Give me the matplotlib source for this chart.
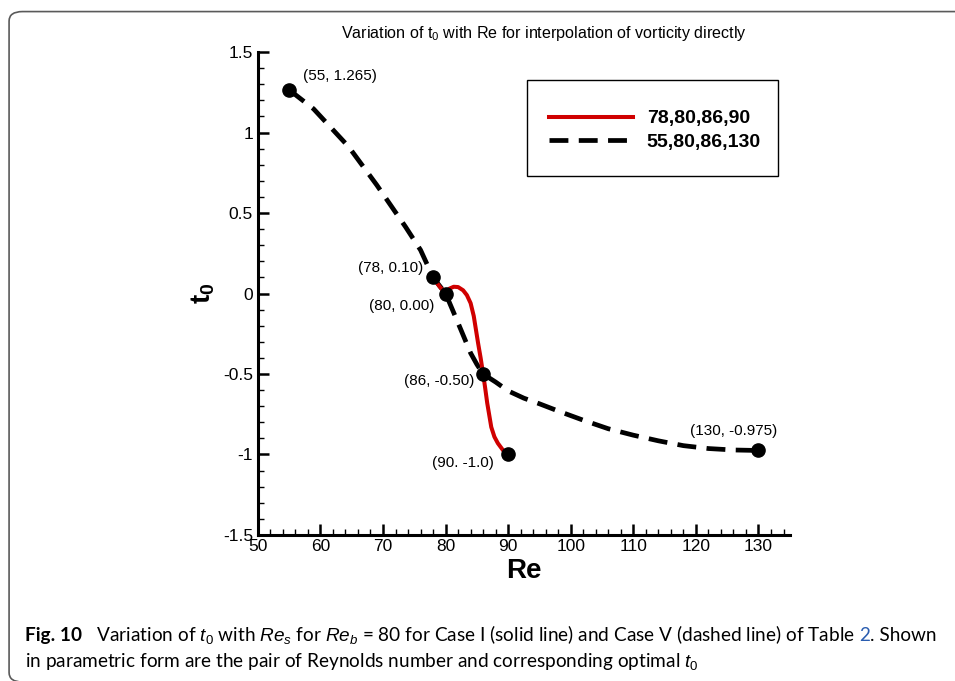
import matplotlib.pyplot as plt
from matplotlib.patches import FancyBboxPatch, Rectangle
from matplotlib.ticker import MultipleLocator

# data
re_solid = [78.0, 79.0, 80.0, 80.6, 81.3, 82.0, 82.8, 83.4, 84.0, 84.5, 85.2, 85.6,
            86.0, 86.3, 86.65, 87.3, 87.8, 88.35, 89.3, 90.0]
t0_solid = [0.10, 0.045, 0.0, 0.03, 0.042, 0.04, 0.02, -0.01, -0.06, -0.14, -0.31, -0.40,
            -0.50, -0.58, -0.68, -0.83, -0.89, -0.93, -0.98, -1.0]

re_dash = [55, 58.9, 64.5, 69.0, 73.6, 76.0, 78.0, 80.0, 81.2, 82.5, 84.0, 85.0, 86.0,
           88.0, 90.0, 92.5, 95.0, 98.0, 102.0, 106.0, 110.0, 114.0, 118.0, 122.0, 126.0, 130.0]
t0_dash = [1.265, 1.147, 0.912, 0.674, 0.414, 0.27, 0.10, 0.0, -0.11, -0.23, -0.37, -0.44, -0.50,
           -0.55, -0.605, -0.65, -0.685, -0.73, -0.787, -0.84, -0.88, -0.915, -0.945, -0.963,
           -0.972, -0.975]

pt_re = [55, 78, 80, 86, 90, 130]
pt_t0 = [1.265, 0.10, 0.00, -0.50, -1.0, -0.975]
pt_labels = ['(55, 1.265)', '(78, 0.10)', '(80, 0.00)', '(86, -0.50)', '(90. -1.0)', '(130, -0.975)']

legend_labels = ['78,80,86,90', '55,80,86,130']
xticks = [50, 60, 70, 80, 90, 100, 110, 120, 130]
yticks = [-1.5, -1, -0.5, 0, 0.5, 1, 1.5]
ytick_labels = ['-1.5', '-1', '-0.5', '0', '0.5', '1', '1.5']

plt.rcParams['font.family'] = ['Liberation Sans', 'DejaVu Sans']
plt.rcParams['mathtext.fontset'] = 'custom'
plt.rcParams['mathtext.rm'] = 'Liberation Sans'
plt.rcParams['mathtext.it'] = 'Liberation Sans:italic'
plt.rcParams['mathtext.bf'] = 'Liberation Sans:bold'

fig = plt.figure(figsize=(9.55, 6.81), dpi=100)

# rounded frame (runs off the right and bottom edges of the page crop)
fig.patches.append(FancyBboxPatch((0.0095, -0.0015), 1.1, 0.9845,
                                  boxstyle='round,pad=0,rounding_size=0.014',
                                  transform=fig.transFigure, fc='none', ec='#5a5a5a', lw=1.2))

ax = fig.add_axes([0.270, 0.2144, 0.557, 0.7092])
ax.plot(re_dash, t0_dash, color='black', lw=3.4, dashes=[4.0, 2.2], label=legend_labels[1], zorder=2)
ax.plot(re_solid, t0_solid, color='#d00000', lw=2.9, label=legend_labels[0], zorder=3)
ax.plot(pt_re, pt_t0, 'o', color='black', ms=9.5, zorder=4)

offsets = [(10, 10), (-7, 7), (-8, -9), (-6, -5), (-10, -6), (-18, 14)]
aligns = ['left', 'right', 'right', 'right', 'right', 'center']
for x, y, s, off, ha in zip(pt_re, pt_t0, pt_labels, offsets, aligns):
    ax.annotate(s, (x, y), xytext=off, textcoords='offset points', ha=ha, va='center', fontsize=11)

ax.set_xlim(50, 135)
ax.set_ylim(-1.5, 1.5)
ax.set_xticks(xticks)
ax.set_yticks(yticks)
ax.set_yticklabels(ytick_labels)
ax.xaxis.set_minor_locator(MultipleLocator(2))
ax.yaxis.set_minor_locator(MultipleLocator(0.1))
ax.tick_params(which='both', direction='in', labelsize=12.5)
ax.tick_params(which='major', length=8, width=1.8)
ax.tick_params(which='minor', length=4.5, width=1)
ax.tick_params(axis='x', pad=3)
for side in ['top', 'right']:
    ax.spines[side].set_visible(False)
for side in ['left', 'bottom']:
    ax.spines[side].set_linewidth(2.2)

ax.set_xlabel('Re', fontsize=20, fontweight='bold', labelpad=3)
ax.set_ylabel(r'$\mathbf{t_0}$', fontsize=20, labelpad=4)

fig.text(0.570, 0.951, r'Variation of t$_0$ with Re for interpolation of vorticity directly',
         ha='center', va='center', fontsize=11.6)

# legend box
ax.add_patch(Rectangle((0.506, 0.743), 0.471, 0.199, transform=ax.transAxes,
                       fc='white', ec='black', lw=1, zorder=5))
h, l = ax.get_legend_handles_labels()
leg = ax.legend([h[1], h[0]], [l[1], l[0]], loc='center left', bbox_to_anchor=(0.530, 0.838),
                frameon=False, borderpad=0, handlelength=4.3, handletextpad=0.7,
                labelspacing=0.3, prop={'weight': 'bold', 'size': 14})
leg.set_zorder(6)

# caption
cap_font = ['Lato', 'DejaVu Sans']
cs = 13.7
t1 = fig.text(0.026, 0.0587, 'Fig. 10', fontsize=cs, fontweight='bold', family=cap_font,
              ha='left', va='baseline')
t2 = fig.text(0.0, 0.0, r'   Variation of $t_0$ with $Re_s$ for $Re_b$ = 80 for Case I (solid line) '
              r'and Case V (dashed line) of Table', fontsize=cs, family=cap_font)
t3 = fig.text(0.0, 0.0, ' 2', fontsize=cs, family=cap_font, color='#2a5db0')
t4 = fig.text(0.0, 0.0, '. Shown', fontsize=cs, family=cap_font)
fig.text(0.026, 0.0206, r'in parametric form are the pair of Reynolds number and corresponding optimal $t_0$',
         fontsize=cs, family=cap_font, ha='left', va='baseline')

fig.canvas.draw()
r = fig.canvas.get_renderer()
prev = t1
for t in [t2, t3, t4]:
    bb = prev.get_window_extent(r)
    x = fig.transFigure.inverted().transform((bb.x1, 0))[0]
    t.set_position((x, 0.0587))
    t.set_va('baseline')
    prev = t

fig.savefig('out.png', dpi=100)
